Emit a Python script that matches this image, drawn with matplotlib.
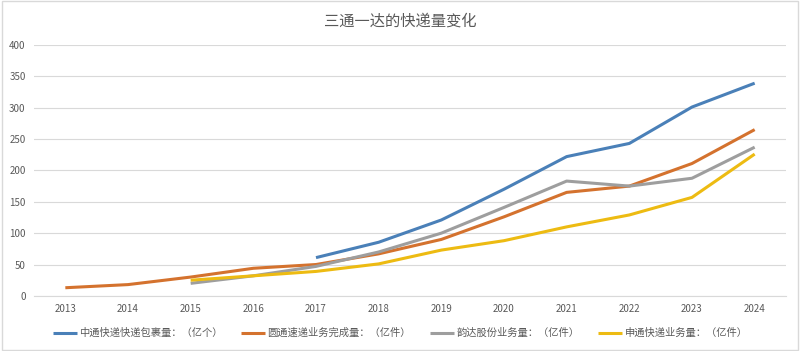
import numpy as np
import matplotlib
matplotlib.use('Agg')
import matplotlib.pyplot as plt

plt.rcParams['font.family'] = ['Noto Sans CJK SC', 'DejaVu Sans']

# 数据（单位：亿件）
years = ['2013', '2014', '2015', '2016', '2017', '2018', '2019', '2020', '2021', '2022', '2023', '2024']
zto = [None, None, None, None, 61, 85.5, 121, 170, 222, 243, 301, 339]
yto = [13, 18, 30, 44, 50, 67, 90, 126, 165, 175, 211, 265]
yunda = [None, None, 20, 32, 47, 70, 100, 141, 183, 175, 187.5, 237]
sto = [None, None, 25, 32, 39, 51, 73, 88, 110, 129, 157, 226]

labels = ['中通快递快递包裹量：（亿个）', '圆通速递业务完成量：（亿件）',
          '韵达股份业务量：（亿件）', '申通快递业务量：（亿件）']
colors = ['#4A80B8', '#D4722E', '#9E9E9E', '#EDBB12']

fig = plt.figure(figsize=(8, 3.51), dpi=100)
ax = fig.add_axes([0.0425, 0.157, 0.94, 0.715])

x = np.arange(len(years))
for serie, lab, c in zip([zto, yto, yunda, sto], labels, colors):
    y = np.array([np.nan if v is None else v for v in serie], dtype=float)
    ax.plot(x, y, color=c, lw=2.2, label=lab, solid_capstyle='butt')

ax.set_xlim(-0.5, len(years) - 0.5)
ax.set_ylim(0, 400)
ax.set_yticks(range(0, 401, 50))
ax.set_xticks(x)
ax.set_xticklabels(years)
ax.tick_params(length=0, labelsize=7, colors='#595959', pad=6)
ax.grid(axis='y', color='#D9D9D9', lw=0.8)
ax.set_axisbelow(True)
for s in ['top', 'right', 'left']:
    ax.spines[s].set_visible(False)
ax.spines['bottom'].set_color('#D9D9D9')

fig.text(0.5, 0.94, '三通一达的快递量变化', ha='center', va='center', fontsize=11, color='#595959')
fig.legend(loc='center', bbox_to_anchor=(0.5, 0.051), ncol=4, frameon=False,
           fontsize=7.4, labelcolor='#595959', handlelength=2.35, handletextpad=0.2,
           columnspacing=1.85)

fig.patches.append(plt.Rectangle((0.002, 0.003), 0.996, 0.994, transform=fig.transFigure,
                                 fill=False, edgecolor='#D9D9D9', lw=1))
fig.savefig('out.png', dpi=100)
